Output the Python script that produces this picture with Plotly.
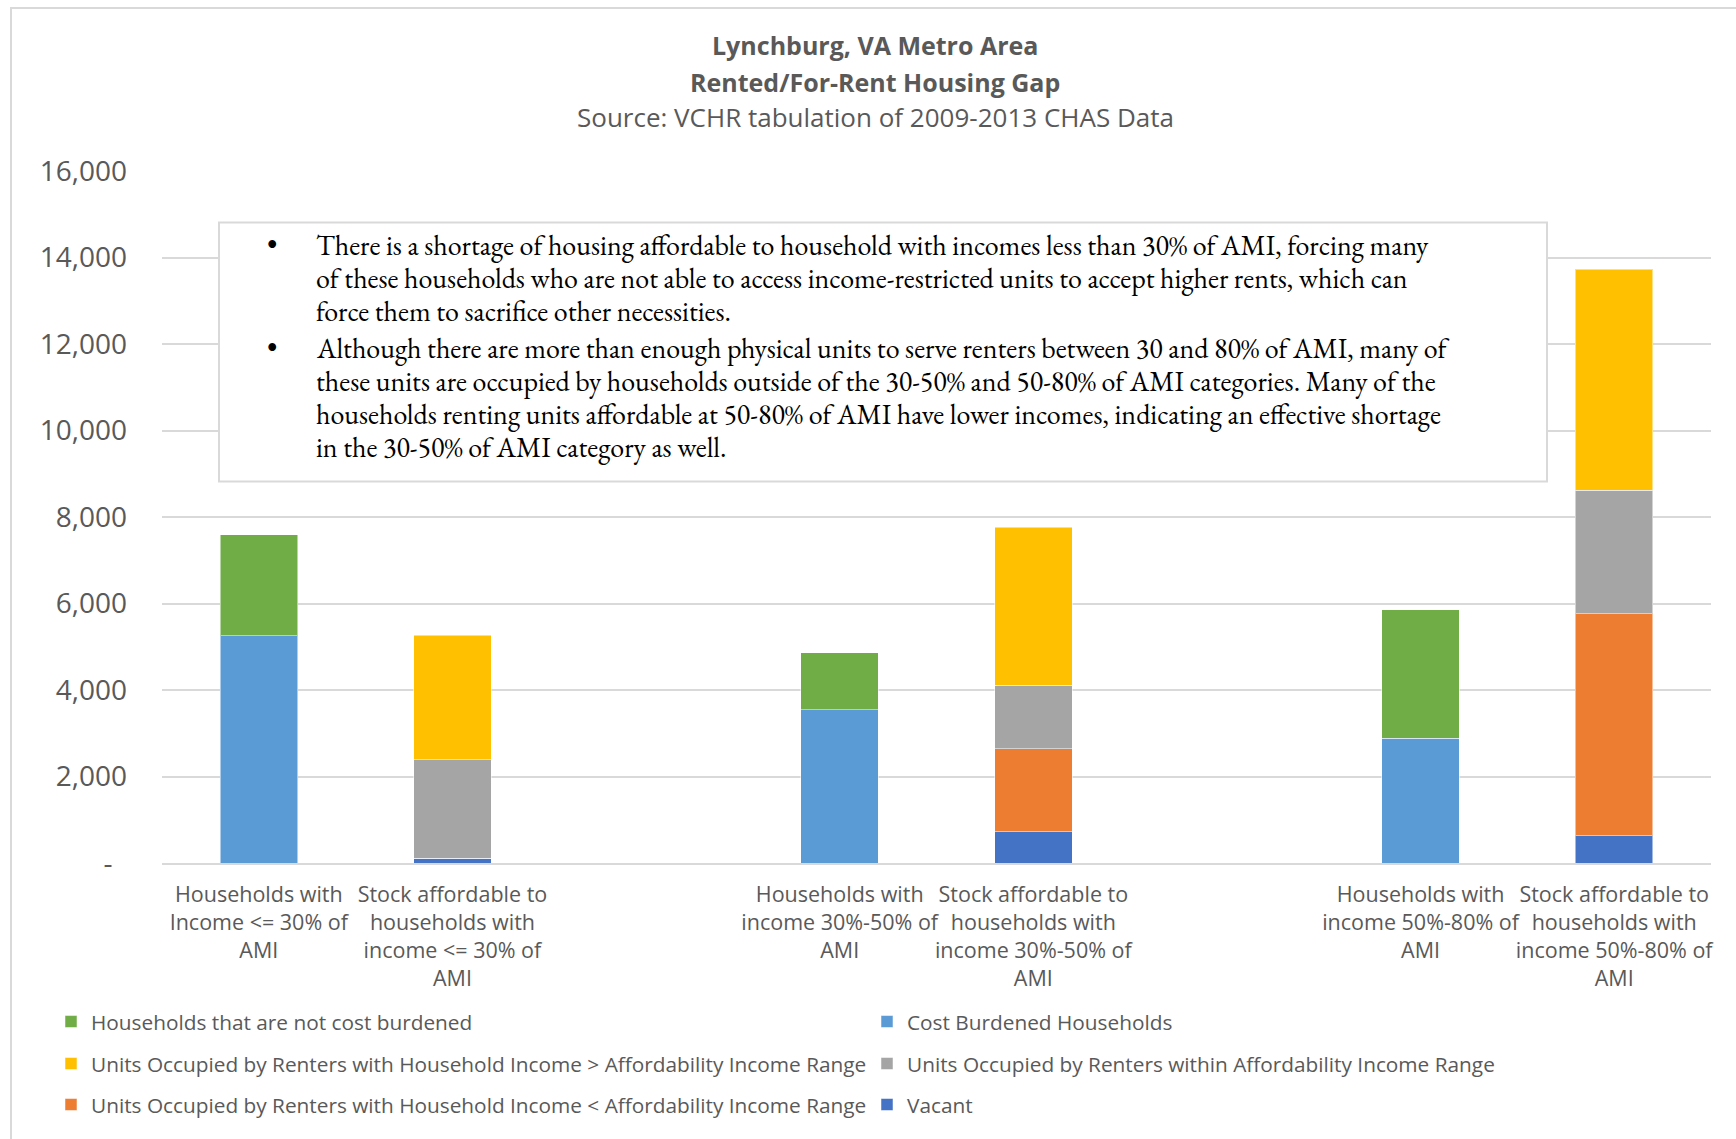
import plotly.graph_objects as go

# ---- data ----
categories = [
    "Households with<br>Income <= 30% of<br>AMI",
    "Stock affordable to<br>households with<br>income <= 30% of<br>AMI",
    "",
    "Households with<br>income 30%-50% of<br>AMI",
    "Stock affordable to<br>households with<br>income 30%-50% of<br>AMI",
    " ",
    "Households with<br>income 50%-80% of<br>AMI",
    "Stock affordable to<br>households with<br>income 50%-80% of<br>AMI",
]
slots = list(range(len(categories)))

cost_burdened = [5250, None, None, 3545, None, None, 2885, None]
not_burdened = [2345, None, None, 1320, None, None, 2970, None]
vacant = [None, 115, None, None, 725, None, None, 635]
occ_lower = [None, 0, None, None, 1920, None, None, 5125]
occ_within = [None, 2275, None, None, 1470, None, None, 2855]
occ_higher = [None, 2875, None, None, 3645, None, None, 5115]

y_tickvals = [0, 2000, 4000, 6000, 8000, 10000, 12000, 14000, 16000]
y_ticktext = ["-\u00a0\u00a0", "2,000", "4,000", "6,000", "8,000", "10,000", "12,000", "14,000", "16,000"]

title_lines = ["<b>Lynchburg, VA Metro Area</b>", "<b>Rented/For-Rent Housing Gap</b>",
               "Source: VCHR tabulation of 2009-2013 CHAS Data"]
title_sizes = [25, 25, 26]

note_lines = [
    "There is a shortage of housing affordable to household with incomes less than 30% of AMI, forcing many",
    "of these households who are not able to access income-restricted units to accept higher rents, which can",
    "force them to sacrifice other necessities.",
    "Although there are more than enough physical units to serve renters between 30 and 80% of AMI, many of",
    "these units are occupied by households outside of the 30-50% and 50-80% of AMI categories. Many of the",
    "households renting units affordable at 50-80% of AMI have lower incomes, indicating an effective shortage",
    "in the 30-50% of AMI category as well.",
]
note_bullet_lines = [0, 3]

# ---- layout geometry (pixels) ----
W, H = 1736, 1139
L, R, T, B = 162, 25, 171, 276
PW, PH = W - L - R, H - T - B


def xp(px):
    return (px - L) / PW


def yp(py):
    return (H - B - py) / PH


TXT = "#595959"
FONT = "Open Sans, Segoe UI, sans-serif"
GRID = "#d9d9d9"

fig = go.Figure()

series = [
    ("Cost Burdened Households", cost_burdened, "#5B9BD5", "legend", 2),
    ("Households that are not cost burdened", not_burdened, "#70AD47", "legend", 1),
    ("Vacant", vacant, "#4472C4", "legend3", 2),
    ("Units Occupied by Renters with Household Income < Affordability Income Range", occ_lower, "#ED7D31", "legend3", 1),
    ("Units Occupied by Renters within Affordability Income Range", occ_within, "#A5A5A5", "legend2", 2),
    ("Units Occupied by Renters with Household Income > Affordability Income Range", occ_higher, "#FFC000", "legend2", 1),
]
for name, vals, col, leg, rank in series:
    fig.add_trace(go.Bar(
        x=slots, y=vals, name=name, legend=leg, legendrank=rank,
        marker=dict(color=col, line=dict(color="rgba(255,255,255,0.5)", width=1)),
    ))

legend_common = dict(
    orientation="h", xanchor="left", yanchor="middle", entrywidth=771, entrywidthmode="pixels",
    font=dict(family=FONT, size=20.8, color=TXT), bgcolor="rgba(0,0,0,0)", traceorder="normal",
)
fig.update_layout(
    legend=dict(x=xp(51), y=yp(1022), **legend_common),
    legend2=dict(x=xp(51), y=yp(1064), **legend_common),
    legend3=dict(x=xp(51), y=yp(1105), **legend_common),
)

fig.update_layout(
    width=W, height=H,
    margin=dict(l=L, r=R, t=T, b=B),
    barmode="stack", bargap=0.6,
    plot_bgcolor="white", paper_bgcolor="white",
    xaxis=dict(
        tickvals=slots, ticktext=categories, range=[-0.5, 7.5],
        showgrid=False, showline=True, linecolor=GRID, linewidth=2,
        ticks="", ticklabelstandoff=11,
        tickfont=dict(family=FONT, size=21.5, color=TXT), tickangle=0,
    ),
    yaxis=dict(
        range=[0, 16000], tickvals=y_tickvals, ticktext=y_ticktext,
        showgrid=True, gridcolor=GRID, gridwidth=1.5, zeroline=False,
        ticks="", ticklabelstandoff=34,
        tickfont=dict(family=FONT, size=28, color=TXT),
    ),
    showlegend=True,
)

annotations = []
title_y = [45.4, 81.9, 117.4]
for txt, ty, ts in zip(title_lines, title_y, title_sizes):
    annotations.append(dict(
        text=txt, xref="paper", yref="paper", x=xp(875), y=yp(ty), xanchor="center", yanchor="middle",
        showarrow=False, font=dict(family=FONT, size=ts, color=TXT),
    ))

note_y = [244.7, 277.9, 311.1, 347.6, 380.8, 414.0, 447.3]
SERIF = "EB Garamond, Garamond, Liberation Serif, serif"
for i, (line, ny) in enumerate(zip(note_lines, note_y)):
    annotations.append(dict(
        text=line, xref="paper", yref="paper", x=xp(314), y=yp(ny), xanchor="left", yanchor="middle",
        showarrow=False, font=dict(family=SERIF, size=28, color="black"),
    ))
    if i in note_bullet_lines:
        annotations.append(dict(
            text="\u2022", xref="paper", yref="paper", x=xp(272), y=yp(ny), xanchor="center", yanchor="middle",
            showarrow=False, font=dict(family=SERIF, size=30, color="black"),
        ))

fig.update_layout(annotations=annotations)

fig.update_layout(shapes=[
    dict(type="rect", xref="paper", yref="paper", x0=xp(219), x1=xp(1547), y0=yp(481.6), y1=yp(222.5),
         fillcolor="white", line=dict(color=GRID, width=2), layer="above"),
    dict(type="rect", xref="paper", yref="paper", x0=xp(11), x1=xp(1760), y0=yp(1160), y1=yp(8),
         fillcolor="rgba(0,0,0,0)", line=dict(color=GRID, width=2), layer="above"),
])

fig.write_html("out.html", config={"displayModeBar": False},
               post_script="document.body.style.margin='0';document.body.style.overflow='hidden';")
